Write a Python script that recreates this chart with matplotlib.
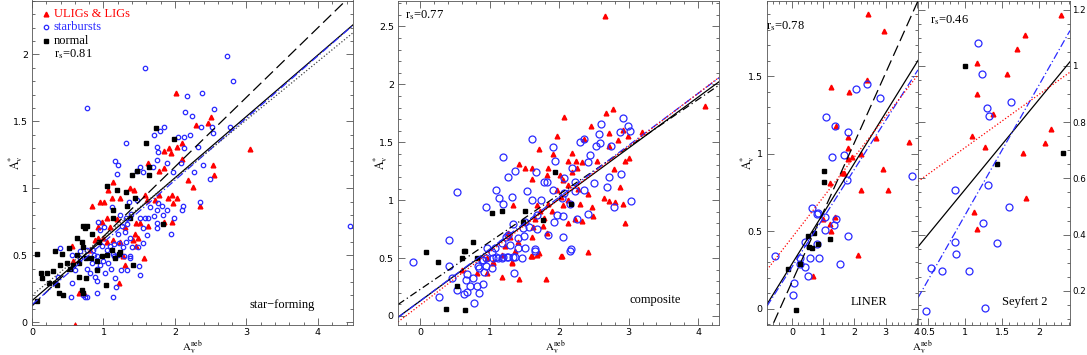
import numpy as np
import matplotlib
matplotlib.use("Agg")
import matplotlib.pyplot as plt
from matplotlib.ticker import MultipleLocator

plt.rcParams['mathtext.fontset'] = 'stix'

# ---------------- data: panel 1 (star-forming) ----------------
sb1_x = [0.77,1.58,2.73,2.81,2.17,2.38,2.14,2.24,2.55,2.36,2.52,2.53,2.77,1.79,1.85,1.71,2.04,2.13,2.21,2.32,1.75,1.31,1.76,1.89,2.13,1.16,1.20,1.51,1.47,1.55,1.75,1.69,1.97,2.08,2.27,2.39,2.49,1.19,1.47,1.12,1.36,1.65,1.76,1.82,1.89,1.75,1.83,2.11,2.10,2.35,1.51,1.58,1.62,1.71,1.23,1.31,1.38,1.55,1.75,1.99,0.95,0.92,1.26,1.33,1.01,1.20,1.30,1.37,1.61,1.94,1.75,0.98,1.09,1.15,1.22,1.27,1.40,1.55,1.48,1.31,0.39,0.56,0.67,0.77,0.85,1.05,1.20,1.29,1.37,1.15,0.91,0.67,0.36,0.60,0.56,0.55,0.71,0.74,0.77,0.77,0.81,0.84,0.87,0.91,0.91,0.91,0.88,0.95,0.99,1.02,1.06,1.13,1.16,1.17,1.13,1.10,1.24,1.33,1.37,1.50,1.51,4.45]
sb1_y = [1.60,1.90,1.99,1.80,1.69,1.71,1.57,1.54,1.59,1.46,1.46,1.41,1.46,1.43,1.46,1.40,1.38,1.38,1.40,1.31,1.31,1.34,1.27,1.19,1.30,1.20,1.17,1.16,1.13,1.12,1.21,1.16,1.12,1.19,1.12,1.17,1.07,1.11,0.91,0.86,0.90,0.86,0.89,0.87,0.84,0.84,0.80,0.87,0.84,0.90,0.78,0.78,0.78,0.79,0.80,0.78,0.81,0.70,0.74,0.78,0.69,0.75,0.72,0.73,0.71,0.66,0.67,0.63,0.65,0.66,0.70,0.57,0.57,0.58,0.59,0.56,0.56,0.59,0.56,0.60,0.55,0.50,0.53,0.54,0.54,0.54,0.50,0.49,0.49,0.49,0.49,0.48,0.34,0.39,0.29,0.19,0.20,0.19,0.19,0.40,0.37,0.44,0.50,0.22,0.31,0.40,0.34,0.43,0.46,0.37,0.44,0.51,0.33,0.26,0.19,0.40,0.39,0.39,0.48,0.42,0.35,0.72]
ul1_x = [2.01,2.50,2.29,2.46,3.05,2.10,2.03,1.92,1.85,1.94,1.62,1.78,1.85,2.10,2.53,2.55,2.18,2.25,1.13,1.06,1.12,1.37,1.43,1.23,0.95,1.01,0.84,1.61,1.58,1.72,1.78,1.90,1.96,2.03,1.97,2.35,0.98,1.05,1.19,1.45,1.51,1.62,1.85,1.96,0.92,1.09,1.30,1.48,1.44,0.92,0.88,0.99,1.05,1.13,1.23,1.41,1.45,0.56,0.81,0.57,0.66,0.73,1.22,1.30,1.27,0.60,1.57]
ul1_y = [1.71,1.53,1.47,1.49,1.29,1.34,1.31,1.30,1.28,1.26,1.19,1.13,1.15,1.22,1.17,1.10,1.06,1.01,1.05,0.99,0.93,1.00,0.99,0.93,0.90,0.90,0.87,0.91,0.95,0.91,0.95,0.93,0.95,0.93,0.89,0.87,0.75,0.78,0.77,0.74,0.74,0.72,0.75,0.75,0.71,0.71,0.71,0.63,0.66,0.63,0.61,0.63,0.60,0.61,0.60,0.61,0.57,0.57,0.54,0.46,0.22,0.22,0.29,0.43,0.49,-0.02,0.48]
nm1_x = [1.73,1.59,1.99,1.64,1.47,1.40,1.64,1.05,1.19,1.31,1.44,1.13,1.33,1.37,1.13,1.83,0.71,0.77,0.74,0.84,0.63,0.70,0.94,0.52,0.71,0.42,0.32,1.12,1.23,1.05,0.98,0.76,0.07,0.13,0.14,0.21,0.29,0.24,0.07,0.32,0.39,0.38,0.43,0.35,0.49,0.53,0.57,0.63,0.66,0.66,0.70,0.71,0.83,0.76,0.91,0.91,1.03,1.16,1.22,1.41]
nm1_y = [1.45,1.34,1.37,1.16,1.13,1.10,1.10,1.02,0.99,0.97,0.93,0.84,0.87,0.78,0.78,0.73,0.72,0.72,0.70,0.66,0.63,0.60,0.60,0.55,0.56,0.51,0.53,0.54,0.52,0.50,0.49,0.48,0.51,0.37,0.33,0.37,0.38,0.29,0.16,0.29,0.43,0.22,0.20,0.28,0.44,0.40,0.43,0.50,0.44,0.34,0.24,0.22,0.48,0.33,0.39,0.46,0.28,0.48,0.51,0.43]

# ---------------- data: panel 2 (composite) ----------------
ul2_x = [2.66,2.07,1.97,2.46,2.68,2.78,2.72,2.92,2.99,2.85,3.19,4.10,2.35,1.71,2.19,1.91,2.12,2.24,2.33,1.42,1.51,1.61,1.61,1.84,1.83,2.01,2.06,2.19,2.26,2.55,2.71,2.79,2.88,2.95,3.01,2.92,2.65,2.71,2.81,2.47,2.30,2.42,2.27,2.12,1.97,2.03,2.13,2.06,1.84,1.90,1.73,1.78,1.65,1.68,1.34,1.77,1.63,1.83,2.12,2.23,2.33,2.49,2.94,2.04,2.42,1.71,1.61,1.32,1.05,0.96,1.27,1.29,1.22,1.40,1.37,1.61,0.60,0.82,0.96,1.05,1.18,1.17,1.32,1.42,1.60,1.81,2.03,1.68]
ul2_y = [2.59,1.72,1.55,1.64,1.75,1.79,1.58,1.61,1.55,1.52,1.59,1.81,1.53,1.44,1.41,1.40,1.34,1.34,1.33,1.31,1.28,1.28,1.18,1.28,1.22,1.22,1.17,1.24,1.28,1.34,1.47,1.27,1.11,1.34,1.36,0.97,1.02,0.99,0.98,0.94,0.97,1.05,1.10,1.13,1.09,1.03,1.00,0.96,0.97,0.91,0.91,0.85,0.84,0.96,0.96,0.78,0.77,0.72,0.80,0.84,0.82,0.86,0.80,0.52,0.55,0.54,0.52,0.47,0.47,0.50,0.72,0.68,0.60,0.64,0.56,0.68,0.40,0.37,0.37,0.46,0.53,0.34,0.46,0.32,0.52,0.32,0.52,0.53]
sb2_x = [1.61,1.19,0.53,1.37,1.27,1.67,1.91,1.94,1.83,1.78,2.07,2.19,2.23,2.30,2.35,2.42,2.45,2.53,2.58,2.60,2.59,2.75,2.92,2.99,3.02,2.88,2.89,2.72,2.69,2.50,2.36,2.23,2.07,1.91,2.04,2.16,3.04,2.79,2.42,2.26,2.06,1.97,1.93,1.84,2.06,2.17,1.68,1.54,1.32,1.14,1.09,1.19,0.94,1.61,1.74,1.51,1.57,1.68,1.48,1.34,1.27,1.40,1.50,1.40,1.51,1.29,1.24,1.17,1.08,0.96,1.04,0.95,0.89,1.05,1.12,1.19,1.27,1.37,1.47,1.65,0.83,1.04,0.42,-0.10,0.42,0.27,0.46,0.53,0.63,0.68,0.68,0.66,0.71,0.76,0.81,0.78,0.85,0.85,0.91,0.92,0.95,0.91,1.09,1.18,1.25,1.35,1.34,1.65,2.16]
sb2_y = [1.53,1.37,1.07,1.25,1.20,1.24,1.46,1.34,1.16,1.16,1.19,1.28,1.16,1.50,1.53,1.33,1.39,1.47,1.57,1.66,1.49,1.47,1.71,1.64,1.60,1.59,1.23,1.20,1.11,1.15,1.09,1.08,1.06,1.09,1.02,0.97,0.99,0.94,0.88,0.84,0.86,0.87,0.81,0.70,0.68,0.58,0.87,1.08,1.03,1.02,1.09,0.97,0.94,1.00,1.00,0.81,0.77,0.75,0.76,0.79,0.70,0.67,0.69,0.59,0.59,0.61,0.68,0.63,0.59,0.59,0.55,0.50,0.48,0.50,0.50,0.51,0.51,0.51,0.50,0.58,0.43,0.41,0.66,0.47,0.43,0.16,0.33,0.22,0.19,0.21,0.36,0.31,0.26,0.33,0.26,0.11,0.20,0.41,0.28,0.38,0.43,0.48,0.51,0.50,0.51,0.37,0.51,0.56,0.56]
nm2_x = [1.94,2.17,1.76,1.51,1.18,1.04,0.76,0.63,0.60,0.09,0.26,0.82,1.48,0.37,0.53,0.65,0.65]
nm2_y = [1.24,0.97,0.83,0.91,0.91,0.89,0.64,0.56,0.50,0.55,0.47,0.50,0.81,0.06,0.26,0.05,0.56]

# ---------------- data: panel 3 (LINER) ----------------
sb3_x = [1.09,1.38,1.79,1.67,1.28,1.76,3.85,0.64,0.83,0.80,1.06,1.41,1.35,1.06,1.79,0.80,0.42,0.26,0.58,0.87,-0.54,2.40,2.05,2.82,0.26,0.42,0.06,0.03,0.51,1.54]
sb3_y = [1.24,1.18,1.14,0.99,0.98,0.83,0.86,0.65,0.62,0.61,0.59,0.58,0.54,0.51,0.47,0.42,0.43,0.33,0.33,0.33,0.34,1.45,1.42,1.36,0.29,0.27,0.17,0.09,0.21,0.29]
ul3_x = [1.41,1.79,1.79,1.79,1.92,2.21,2.69,3.75,1.60,1.67,2.92,1.22,2.21,3.08,1.38,0.99,1.22,1.25,2.12,2.44,2.95,1.25,1.83,2.40,0.67]
ul3_y = [1.18,1.11,1.04,0.97,0.98,1.00,1.10,1.08,0.88,0.88,0.90,0.81,0.77,0.77,0.59,0.58,0.55,0.50,0.35,1.90,1.79,1.43,1.40,1.48,0.21]
nm3_x = [1.03,1.03,0.51,0.71,0.54,0.64,0.83,1.22,-0.13,0.26,0.13]
nm3_y = [0.89,0.82,0.47,0.49,0.40,0.39,0.42,0.45,0.26,0.29,-0.01]

# ---------------- data: panel 4 (Seyfert 2) ----------------
sb4_x = [1.30,1.62,1.32,0.86,1.31,1.59,1.24,0.86,1.43,0.88,1.18,1.23,0.47,0.54,0.69,1.05,1.27]
sb4_y = [0.85,0.87,0.82,0.56,0.575,0.50,0.44,0.375,0.37,0.33,1.08,0.97,0.13,0.28,0.27,0.27,0.14]
ul4_x = [1.38,1.09,1.27,1.78,2.08,2.16,1.82,1.12,1.16,2.30,1.16,1.16,1.81,1.70,1.57]
ul4_y = [0.83,0.75,0.71,0.69,0.725,0.775,0.53,0.48,0.42,1.18,1.01,0.90,1.11,1.06,0.97]
nm4_x = [1.43,2.32,1.00]
nm4_y = [0.65,0.69,1.00]

# fit lines: (intercept, slope)
fits1 = {'dash': (0.12, 0.52), 'solid': (0.16, 0.459), 'blue': (0.13, 0.465), 'dot': (0.20, 0.437)}
fits2 = {'dashdot': (0.23, 0.41), 'solid': (0.13, 0.44), 'blue': (0.13, 0.448), 'red': (0.095, 0.457)}
fits3 = {'dash': (0.174, 0.449), 'solid': (0.29, 0.325), 'blue': (0.27, 0.315), 'red': (0.46, 0.26)}
fits4 = {'solid': (0.24, 0.32), 'blue': (0.007, 0.462), 'red': (0.52, 0.189)}

rs_labels = ['0.81', '0.77', '0.78', '0.46']
panel_names = ['star\u2212forming', 'composite', 'LINER', 'Seyfert 2']

RED = '#ff0000'
BLUE = '#2a2aff'
SERIF = 'Liberation Serif'

W, H = 1087, 355
fig = plt.figure(figsize=(W/100, H/100), dpi=100)

def rect(x0, x1, ytop=0.5, ybot=325):
    return [x0/W, (H-ybot)/H, (x1-x0)/W, (ybot-ytop)/H]

ax1 = fig.add_axes(rect(32, 353))
ax2 = fig.add_axes(rect(398, 719))
ax3 = fig.add_axes(rect(767, 918))
ax4 = fig.add_axes(rect(918, 1070))

LINESTYLES = {
    'dash': dict(color='black', ls=(0, (9, 4)), lw=0.9),
    'dashdot': dict(color='black', ls=(0, (6, 2.5, 1, 2.5)), lw=0.9),
    'solid': dict(color='black', ls='-', lw=0.9),
    'blue': dict(color=BLUE, ls=(0, (6, 2, 1, 2)), lw=0.9),
    'red': dict(color=RED, ls=(0, (1, 1.6)), lw=0.9),
    'dot': dict(color='#444444', ls=(0, (1, 1.6)), lw=0.9),
}

def style(ax, xlim, ylim, xmaj, xmin, ymaj, ymin):
    ax.set_xlim(*xlim)
    ax.set_ylim(*ylim)
    ax.xaxis.set_major_locator(MultipleLocator(xmaj))
    ax.xaxis.set_minor_locator(MultipleLocator(xmin))
    ax.yaxis.set_major_locator(MultipleLocator(ymaj))
    ax.yaxis.set_minor_locator(MultipleLocator(ymin))
    ax.tick_params(which='both', direction='in', top=True, right=True,
                   width=0.6, color='#555555', labelsize=6.8)
    ax.tick_params(which='major', length=5)
    ax.tick_params(which='minor', length=2.5)
    ax.tick_params(axis='x', pad=2.5)
    ax.tick_params(axis='y', pad=3)
    for s in ax.spines.values():
        s.set_linewidth(0.6)
        s.set_color('#555555')

def fmt(v, pos):
    return ('%g' % round(v, 2))

def scatter(ax, sx, sy, ux, uy, nx, ny, msb):
    ax.plot(ux, uy, ls='none', marker='^', ms=3.4, color=RED, mec=RED)
    ax.plot(sx, sy, ls='none', marker='o', ms=msb, mfc='none', mec=BLUE, mew=0.9)
    ax.plot(nx, ny, ls='none', marker='s', ms=2.8, color='black')

def fitlines(ax, fits):
    x0, x1 = ax.get_xlim()
    xs = np.array([x0, x1])
    for k, (a, b) in fits.items():
        ax.plot(xs, a + b * xs, **LINESTYLES[k])

# panel 1
style(ax1, (0, 4.49), (-0.022, 2.403), 1, 0.2, 0.5, 0.1)
scatter(ax1, sb1_x, sb1_y, ul1_x, ul1_y, nm1_x, nm1_y, 3.2)
fitlines(ax1, fits1)
# panel 2
style(ax2, (-0.32, 4.30), (-0.078, 2.724), 1, 0.2, 0.5, 0.1)
scatter(ax2, sb2_x, sb2_y, ul2_x, ul2_y, nm2_x, nm2_y, 5.0)
fitlines(ax2, fits2)
# panel 3
style(ax3, (-0.80, 4.04), (-0.104, 1.99), 1, 0.2, 0.5, 0.1)
scatter(ax3, sb3_x, sb3_y, ul3_x, ul3_y, nm3_x, nm3_y, 5.0)
fitlines(ax3, fits3)
# panel 4
style(ax4, (0.365, 2.42), (0.079, 1.232), 0.5, 0.1, 0.2, 0.05)
scatter(ax4, sb4_x, sb4_y, ul4_x, ul4_y, nm4_x, nm4_y, 5.0)
fitlines(ax4, fits4)
ax4.tick_params(labelleft=False, labelright=True, axis='y', pad=1.5, labelsize=6.3)

for ax in (ax1, ax2, ax3, ax4):
    ax.xaxis.set_major_formatter(plt.FuncFormatter(fmt))
    ax.yaxis.set_major_formatter(plt.FuncFormatter(fmt))

xl = r'$\mathrm{A_v^{neb}}$'
yl = r'$\mathrm{A_v^{*}}$'
for ax, ycx in ((ax1, -0.022), (ax2, -0.025), (ax3, -0.066)):
    ax.set_ylabel(yl, fontsize=8.5)
    ax.yaxis.set_label_coords(ycx, 0.5)
for ax, xcx in ((ax1, 0.5), (ax2, 0.49), (ax3, 1.03)):
    ax.set_xlabel(xl, fontsize=7.8)
    ax.xaxis.set_label_coords(xcx, -0.042)

# legend in panel 1 (hand placed like original)
ax1.plot([0.043], [0.958], transform=ax1.transAxes, marker='^', ms=3.4, color=RED, ls='none')
ax1.plot([0.043], [0.917], transform=ax1.transAxes, marker='o', ms=3.2, mfc='none', mec=BLUE, mew=0.9, ls='none')
ax1.plot([0.043], [0.874], transform=ax1.transAxes, marker='s', ms=2.8, color='black', ls='none')
ax1.text(0.068, 0.958, 'ULIGs & LIGs', transform=ax1.transAxes, color=RED,
         family=SERIF, fontsize=9, va='center')
ax1.text(0.068, 0.917, 'starbursts', transform=ax1.transAxes, color=BLUE,
         family=SERIF, fontsize=9, va='center')
ax1.text(0.068, 0.874, 'normal', transform=ax1.transAxes, color='black',
         family=SERIF, fontsize=9, va='center')
ax1.text(0.068, 0.835, r'r$_\mathrm{s}$=' + rs_labels[0], transform=ax1.transAxes,
         family=SERIF, fontsize=9, va='center')

ax2.text(0.022, 0.955, r'r$_\mathrm{s}$=' + rs_labels[1], transform=ax2.transAxes,
         family=SERIF, fontsize=9, va='center')
ax3.text(-0.005, 0.922, r'r$_\mathrm{s}$=' + rs_labels[2], transform=ax3.transAxes,
         family=SERIF, fontsize=9, va='center')
ax4.text(0.08, 0.94, r'r$_\mathrm{s}$=' + rs_labels[3], transform=ax4.transAxes,
         family=SERIF, fontsize=9, va='center')

ax1.text(0.78, 0.062, panel_names[0], transform=ax1.transAxes, ha='center',
         family=SERIF, fontsize=9, va='center')
ax2.text(0.80, 0.077, panel_names[1], transform=ax2.transAxes, ha='center',
         family=SERIF, fontsize=9, va='center')
ax3.text(0.675, 0.07, panel_names[2], transform=ax3.transAxes, ha='center',
         family=SERIF, fontsize=9, va='center')
ax4.text(0.70, 0.07, panel_names[3], transform=ax4.transAxes, ha='center',
         family=SERIF, fontsize=9, va='center')

fig.savefig('out.png', dpi=100)
